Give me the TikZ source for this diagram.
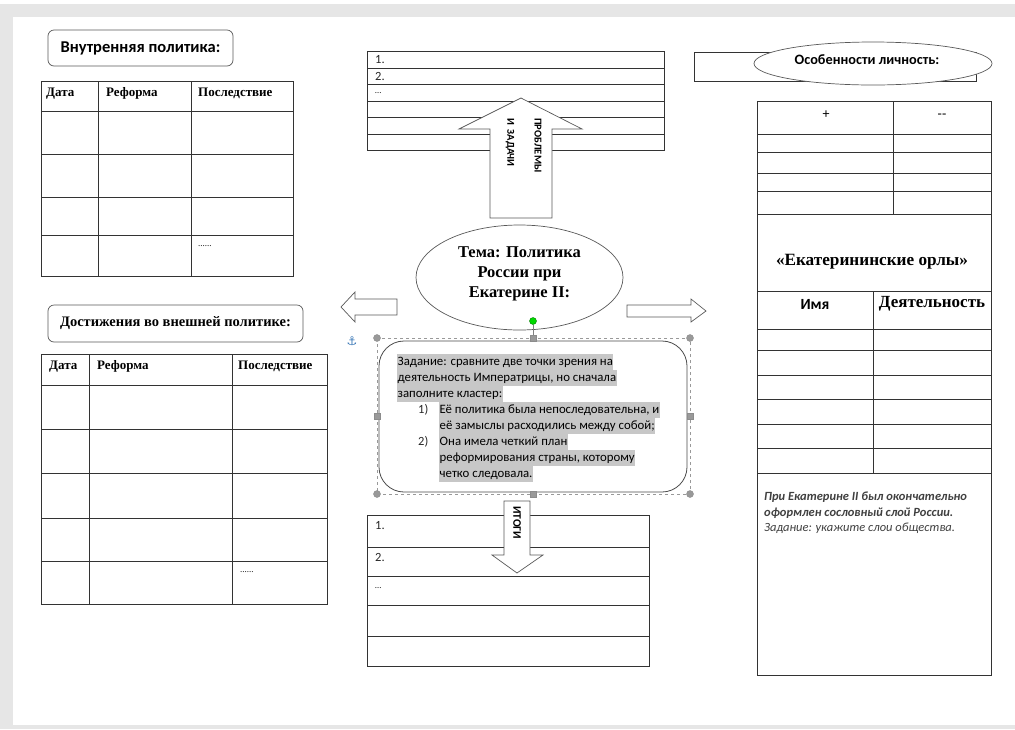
\documentclass[tikz,border=0pt]{standalone}
\usepackage{fontspec}
\setmainfont{Liberation Serif}
\newfontfamily\calibri{Carlito}
\newfontfamily\symfont{DejaVu Sans}
\definecolor{anchorblue}{RGB}{61,122,184}
\definecolor{pagegray}{RGB}{230,230,230}

\tikzset{
  tabline/.style={draw=black!80, line width=0.8pt},
  shapeline/.style={draw=black!65, line width=0.7pt, fill=white},
  rubric/.style={draw=black!65, line width=0.7pt, rounded corners=6pt, fill=white},
  thead/.style={anchor=base west, inner sep=0pt, font=\fontsize{13}{15}\selectfont\bfseries},
  cell/.style={anchor=west, inner sep=0pt, text=black!85, font=\calibri\fontsize{12.5}{14}\selectfont},
  hl/.style={anchor=west, fill=black!22, inner xsep=0.5pt, inner ysep=0pt, text height=11.5pt, text depth=4.5pt, font=\calibri\fontsize{12.8}{16}\selectfont},
  note/.style={anchor=west, inner sep=0pt, text=black!75, font=\calibri\fontsize{12.5}{14}\selectfont},
  arrowtext/.style={rotate=-90, anchor=west, inner sep=0pt, font=\calibri\bfseries\fontsize{10.5}{12}\selectfont},
  handle/.style={draw=black!45, fill=black!40, minimum size=6pt, inner sep=0pt},
  knob/.style={circle, draw=black!45, fill=black!40, minimum size=7pt, inner sep=0pt}
}

\begin{document}
\begin{tikzpicture}[x=1pt,y=-1pt]
\useasboundingbox (0,0) rectangle (1015,729);
\fill[white] (0,0) rectangle (1015,729);
\fill[pagegray] (0,4) rectangle (1015,17);
\fill[pagegray] (0,4) rectangle (13,729);
\fill[pagegray] (0,725) rectangle (1015,729);

\node[rubric, minimum width=185pt, minimum height=36pt, font=\calibri\bfseries\fontsize{16.5}{18}\selectfont] (vnutr) at (140.5,48) {Внутренняя политика:};
\draw[tabline] (41,81) rectangle (293,276);
\foreach \y in {111,154,197,235} \draw[tabline] (41,\y) -- (293,\y);
\foreach \x in {98,191} \draw[tabline] (\x,81) -- (\x,276);
\node[thead] (date1) at (46,96) {Дата};
\node[thead] (ref1) at (106,96) {Реформа};
\node[thead] (res1) at (198,96) {Последствие};
\node[anchor=west, inner sep=0pt, font=\fontsize{9}{10}\selectfont] (dots1) at (198,246) {......};

\node[rubric, minimum width=255pt, minimum height=37pt, font=\fontsize{14.5}{16}\selectfont\bfseries] (vnesh) at (175.5,323.5) {Достижения во внешней политике:};
\draw[tabline] (41,354) rectangle (327,604);
\foreach \y in {385,429,473,518,561} \draw[tabline] (41,\y) -- (327,\y);
\foreach \x in {89,232} \draw[tabline] (\x,354) -- (\x,604);
\node[thead] (date2) at (49,369) {Дата};
\node[thead] (ref2) at (97,369) {Реформа};
\node[thead] (res2) at (238,369) {Последствие};
\node[anchor=west, inner sep=0pt, font=\fontsize{9}{10}\selectfont] (dots2) at (240,572) {......};

\draw[tabline] (367,51) rectangle (664,150);
\foreach \y in {68,84,101,117,134} \draw[tabline] (367,\y) -- (664,\y);
\node[cell] (pr1) at (375,60) {1.};
\node[cell] (pr2) at (375,76) {2.};
\node[cell, font=\calibri\fontsize{9}{10}\selectfont] (pr3) at (375,93) {…};
\draw[shapeline] (490,218) -- (490,129) -- (459,129) -- (521,98) -- (582,129) -- (552,129) -- (552,218) -- cycle;
\node[arrowtext] (probl) at (538,118) {ПРОБЛЕМЫ};
\node[arrowtext] (zadachi) at (510,118) {И\ \ ЗАДАЧИ};

\draw[shapeline] (519.5,277.5) ellipse (103.5pt and 52.5pt);
\node[align=center, font=\fontsize{16.5}{20}\selectfont\bfseries] (theme) at (519.5,274) {Тема: Политика\\России при\\Екатерине II:};
\draw[shapeline] (341,307) -- (355,292) -- (355,299) -- (397,299) -- (397,315) -- (355,315) -- (355,322) -- cycle;
\draw[shapeline] (627,305) -- (691,305) -- (691,299) -- (706,311) -- (691,322) -- (691,317) -- (627,317) -- cycle;

\draw[draw=black!70, line width=0.8pt, rounded corners=25pt] (379,341) rectangle (687,492);
\node[hl] (task1) at (397,362) {Задание: сравните две точки зрения на};
\node[hl] (task2) at (397,378) {деятельность Императрицы, но сначала};
\node[hl] (task3) at (397,394) {заполните кластер:\hspace{14pt}};
\node[cell] (num1) at (418,410) {1)};
\node[hl] (view1) at (439,410) {Её политика была непоследовательна, и};
\node[hl] (view1b) at (439,426) {её замыслы расходились между собой;};
\node[cell] (num2) at (418,442) {2)};
\node[hl] (view2) at (439,442) {Она имела четкий план};
\node[hl] (view2b) at (439,458) {реформирования страны, которому};
\node[hl] (view2c) at (439,474) {четко следовала.\hspace{3pt}};

\draw[black!40, dashed, line width=0.5pt] (377,338) rectangle (690,494);
\foreach \x/\y [count=\i] in {377/338,690/338,377/494,690/494} \node[knob] (k\i) at (\x,\y) {};
\node[handle] (htop) at (533,338) {};
\node[handle] (hbot) at (533,494) {};
\node[handle] (hleft) at (377,416) {};
\node[handle] (hright) at (690,416) {};
\node[circle, fill=green!85!black, draw=green!50!black, minimum size=7pt, inner sep=0pt] (hrot) at (533,321) {};
\draw[black!50, line width=0.7pt] (hrot) -- (htop);
\node[text=anchorblue, inner sep=0pt, font=\symfont\fontsize{12}{12}\selectfont] (anch) at (352,341) {⚓};

\draw[tabline] (367,515) rectangle (649,666);
\foreach \y in {547,576,605,636} \draw[tabline] (367,\y) -- (649,\y);
\node[cell] (it1) at (375,526) {1.};
\node[cell] (it2) at (375,557) {2.};
\node[cell, font=\calibri\fontsize{9}{10}\selectfont] (it3) at (375,588) {…};
\draw[shapeline] (504,501) -- (530,501) -- (530,555) -- (543,555) -- (517,573) -- (492,555) -- (504,555) -- cycle;
\node[arrowtext, font=\calibri\bfseries\fontsize{11.5}{13}\selectfont] (itogi) at (517,506) {ИТОГИ};

\draw[tabline] (694,52) rectangle (976,81);
\draw[shapeline] (873,63.5) ellipse (119pt and 21.5pt);
\node[font=\calibri\bfseries\fontsize{14.3}{15}\selectfont] (lichn) at (867,60) {Особенности личность:};

\draw[tabline] (757,101) rectangle (991,675);
\foreach \y in {134,152,173,191,214,291,329,350,375,399,424,448,473} \draw[tabline] (757,\y) -- (991,\y);
\draw[tabline] (893,101) -- (893,214);
\draw[tabline] (873,291) -- (873,473);
\node[font=\calibri\fontsize{14}{15}\selectfont] (plus) at (826,115) {+};
\node[font=\calibri\fontsize{14}{15}\selectfont] (minus) at (942,116) {-{}-};
\node[font=\fontsize{17.2}{20}\selectfont\bfseries] (orly) at (872,262) {«Екатерининские орлы»};
\node[font=\calibri\bfseries\fontsize{15.5}{16}\selectfont] (imya) at (815,304) {Имя};
\node[font=\fontsize{17}{18}\selectfont\bfseries] (deyat) at (932,304) {Деятельность};
\node[note, font=\calibri\bfseries\itshape\fontsize{12.5}{14}\selectfont] (soslov1) at (764,497) {При Екатерине II был окончательно};
\node[note, font=\calibri\bfseries\itshape\fontsize{12.5}{14}\selectfont] (soslov2) at (764,513) {оформлен сословный слой России.};
\node[note, font=\calibri\itshape\fontsize{12.5}{14}\selectfont] (soslov3) at (764,528) {Задание: укажите слои общества.};
\end{tikzpicture}
\end{document}
